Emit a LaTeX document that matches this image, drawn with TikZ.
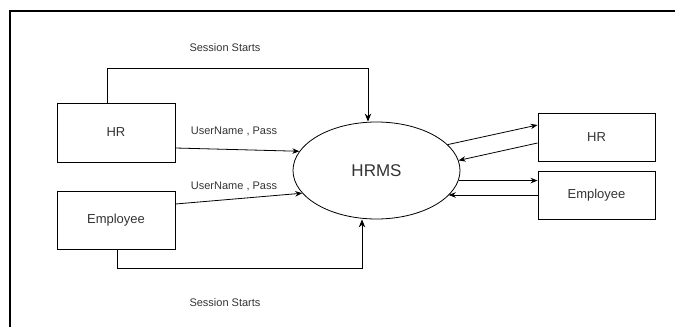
\documentclass[tikz,border=0pt]{standalone}
\usepackage{fontspec}
\setmainfont{Liberation Sans}
\usetikzlibrary{arrows.meta,shapes.geometric}
\definecolor{ink}{HTML}{333333}
\begin{document}
\begin{tikzpicture}[x=1pt,y=-1pt,
  entity/.style={draw=black,line width=0.9pt,minimum width=118pt,inner sep=0pt,
    font=\fontsize{13}{15}\selectfont,text=ink},
  process/.style={draw=black,line width=0.8pt,ellipse,minimum width=167pt,minimum height=97pt,
    inner sep=0pt,font=\fontsize{17}{20}\selectfont,text=ink},
  flow/.style={line width=0.8pt,-{Stealth[length=7pt,width=5.5pt]}},
  session/.style={line width=1pt,-{Stealth[length=8pt,width=6.5pt]}},
  lbl/.style={font=\fontsize{11}{13}\selectfont,text=ink,inner sep=0pt}]
\useasboundingbox (0,0) rectangle (675,327);

% frame edges
\draw[line width=2pt] (10,327) -- (10,11) -- (675,11);

% external entities
\node[entity,minimum height=59pt] (hrL)  at (116,132.5) {HR};
\node[entity,minimum height=58pt] (empL) at (116,220) {Employee};
\node[entity,minimum width=117pt,minimum height=48pt] (hrR)  at (596.5,137) {HR};
\node[entity,minimum width=117pt,minimum height=48pt] (empR) at (596.5,195) {Employee};

% central process
\node[process] (hrms) at (376.5,170.5) {HRMS};

% login flows
\draw[flow] (hrL.east |- 0,148) -- (hrms.166);
\draw[flow] (empL.east |- 0,204) -- (hrms.197);
\node[lbl] (lblA) at (234,131) {UserName , Pass};
\node[lbl] (lblB) at (234,186) {UserName , Pass};

% session flows
\draw[session] ([xshift=-9pt]hrL.north) |- ([xshift=-8.5pt]hrms.north |- 0,68) -- ([xshift=-8.5pt]hrms.north);
\draw[session] ([xshift=1pt]empL.south) |- ([xshift=-14.5pt]hrms.south |- 0,268) -- ([xshift=-14.5pt]hrms.south);
\node[lbl] (lblTop) at (225,48) {Session Starts};
\node[lbl] (lblBot) at (225,303) {Session Starts};

% outgoing and returning flows
\draw[flow] (hrms.20) -- (hrR.west |- 0,125);
\draw[flow] (hrR.west |- 0,143) -- (hrms.7);
\draw[flow] (hrms.353) -- (hrms.353 -| empR.west);
\draw[flow] (empR.west) -- (hrms.341 |- empR.west);
\end{tikzpicture}
\end{document}
